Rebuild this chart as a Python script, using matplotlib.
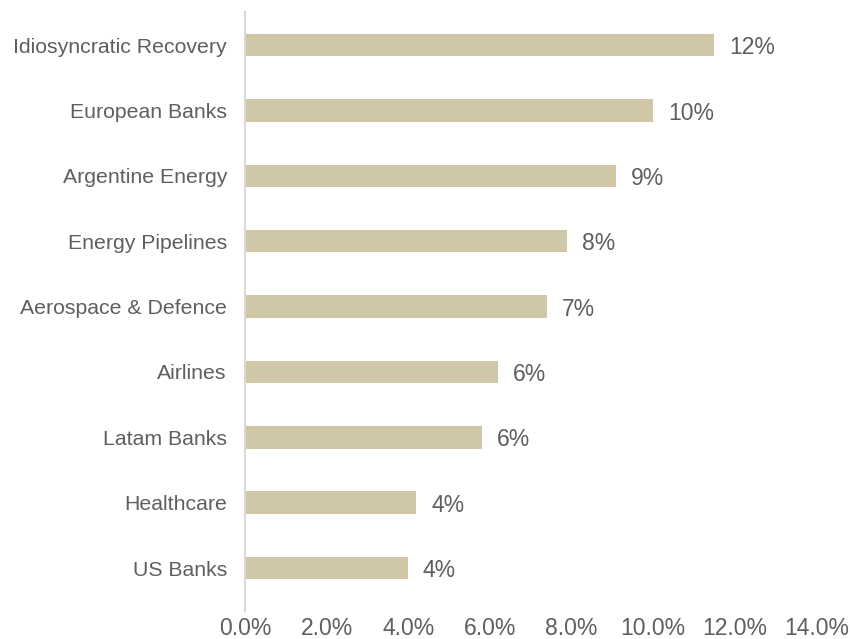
import matplotlib

matplotlib.use("Agg")
import matplotlib.pyplot as plt
from matplotlib.ticker import FuncFormatter

# sector weights (% of portfolio), bottom to top
SECTORS = ["US Banks", "Healthcare", "Latam Banks", "Airlines", "Aerospace & Defence",
           "Energy Pipelines", "Argentine Energy", "European Banks", "Idiosyncratic Recovery"]
WEIGHTS = [4.0, 4.2, 5.8, 6.2, 7.4, 7.9, 9.1, 10.0, 11.5]
X_TICKS = [0, 2, 4, 6, 8, 10, 12, 14]

BAR_COLOR = "#cfc7a6"
TEXT_COLOR = "#5f5f5f"
AXIS_COLOR = "#d9d9d9"

plt.rcParams["font.family"] = ["Liberation Sans", "DejaVu Sans"]

fig = plt.figure(figsize=(8.53, 6.39), dpi=100)
ax = fig.add_axes([0.2872, 0.0446, 0.670, 0.936])

y = range(len(SECTORS))
ax.barh(y, WEIGHTS, height=0.345, color=BAR_COLOR, edgecolor="none")
for yi, w in zip(y, WEIGHTS):
    ax.text(w + 0.36, yi - 0.04, f"{w:.0f}%", va="center", ha="left",
            fontsize=16.5, color=TEXT_COLOR)

ax.set_xlim(0, 14)
ax.set_ylim(-0.65, len(SECTORS) - 0.5)
ax.set_xticks(X_TICKS)
ax.xaxis.set_major_formatter(FuncFormatter(lambda v, _: f"{v:.1f}%"))
ax.set_yticks(list(y))
ax.set_yticklabels(SECTORS)

ax.tick_params(axis="x", length=0, pad=4.5, labelsize=16.5, labelcolor=TEXT_COLOR)
ax.tick_params(axis="y", length=0, pad=13, labelsize=15.3, labelcolor=TEXT_COLOR)
for side in ("top", "right", "bottom"):
    ax.spines[side].set_visible(False)
ax.spines["left"].set_color(AXIS_COLOR)
ax.spines["left"].set_linewidth(1.5)

fig.savefig("out.png", dpi=100)
